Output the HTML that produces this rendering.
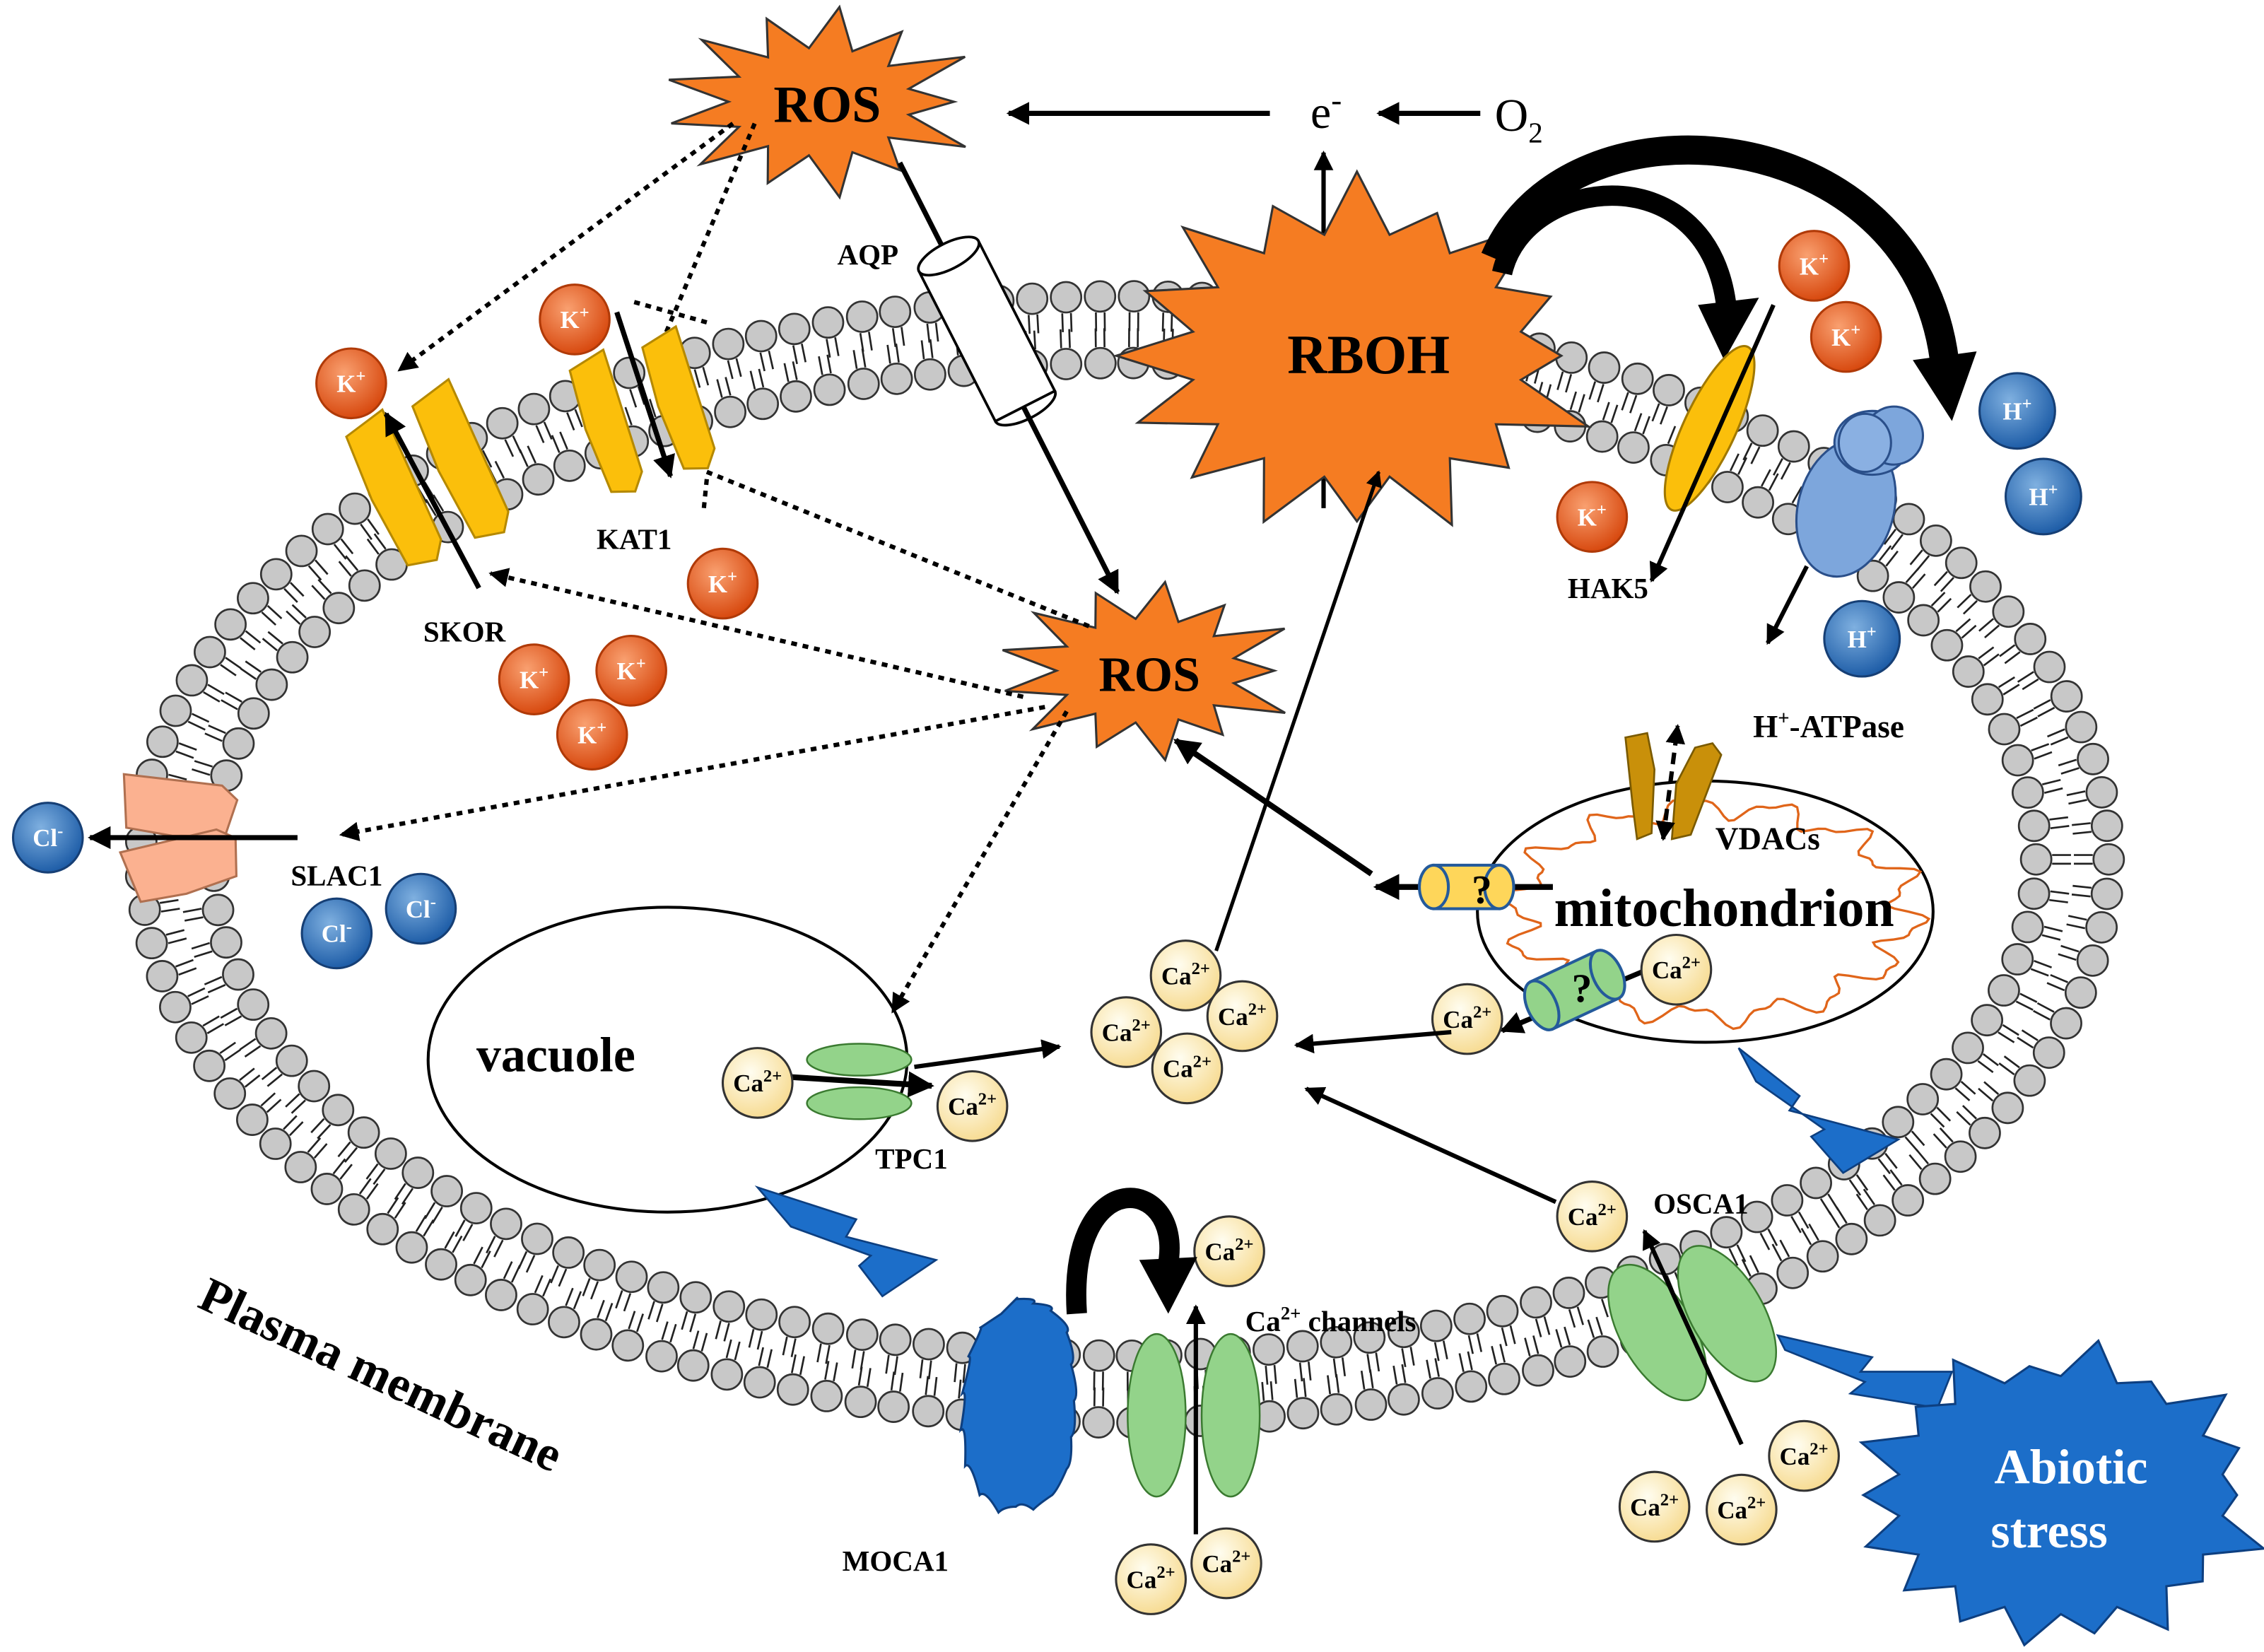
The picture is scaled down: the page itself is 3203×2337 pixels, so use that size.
<!DOCTYPE html>
<html><head><meta charset="utf-8"><style>
html,body{margin:0;padding:0;background:#fff}
svg{display:block}
text{font-family:"Liberation Serif",serif;font-weight:bold}
</style></head><body>
<svg id="s" width="3203" height="2337" viewBox="0 0 1560 1138" xmlns="http://www.w3.org/2000/svg">
<defs>
<marker id="ah" viewBox="0 0 10 10" refX="9" refY="5" markerWidth="4.5" markerHeight="4.5" orient="auto-start-reverse"><path d="M0,0 L10,5 L0,10 z" fill="#000"/></marker>
<radialGradient id="gk" cx="40%" cy="35%" r="65%"><stop offset="0" stop-color="#f9a070"/><stop offset="1" stop-color="#d84a10"/></radialGradient>
<radialGradient id="gh" cx="40%" cy="35%" r="65%"><stop offset="0" stop-color="#7fb0e0"/><stop offset="1" stop-color="#1f5ea8"/></radialGradient>
<radialGradient id="gc" cx="40%" cy="35%" r="65%"><stop offset="0" stop-color="#fffdf0"/><stop offset="1" stop-color="#f7dc94"/></radialGradient>
</defs>
<g id="mem"></g>
<g id="top"></g>
</svg>
<script>
var NS="http://www.w3.org/2000/svg";
function el(tag,attrs,parent,txt){var e=document.createElementNS(NS,tag);for(var k in attrs)e.setAttribute(k,attrs[k]);if(txt!==undefined)e.textContent=txt;(parent||document.getElementById('top')).appendChild(e);return e;}
function ts(t,s,dy,size){var a=document.createElementNS(NS,'tspan');a.textContent=s;if(dy)a.setAttribute('dy',dy);if(size)a.setAttribute('font-size',size);t.appendChild(a);return a;}
var mem=document.getElementById('mem');
var cx=775,cy=592;
function ring(rx,ry,dir){
  var N=4000,pts=[],L=0,prev=null;
  for(var i=0;i<=N;i++){var t=i/N*2*Math.PI;var p=[cx+rx*Math.cos(t),cy+ry*Math.sin(t)];if(prev)L+=Math.hypot(p[0]-prev[0],p[1]-prev[1]);pts.push([p,L,t]);prev=p;}
  var n=Math.round(L/23.5),step=L/n,j=0;
  for(var k=0;k<n;k++){var target=k*step;while(pts[j][1]<target)j++;var p=pts[j][0],t=pts[j][2];
    var nx=Math.cos(t)/rx,ny=Math.sin(t)/ry,nl=Math.hypot(nx,ny);nx/=nl;ny/=nl;
    var a=p[0]-dir*nx*11,b=p[1]-dir*ny*11;
    el('line',{x1:a-ny*3,y1:b+nx*3,x2:a-ny*3-dir*nx*13,y2:b+nx*3-dir*ny*13,stroke:'#222','stroke-width':1.3},mem);
    el('line',{x1:a+ny*3,y1:b-nx*3,x2:a+ny*3-dir*nx*13,y2:b-nx*3-dir*ny*13,stroke:'#222','stroke-width':1.3},mem);
    el('circle',{cx:p[0],cy:p[1],r:10.5,fill:'#c8c8c8',stroke:'#333','stroke-width':1.3},mem);
  }
}
ring(678,388,1);ring(628,342,-1);

function star(x,y,rx,ry,n,inner,fill,stroke,rot){var s='';for(var i=0;i<2*n;i++){var a=(rot||0)+i*Math.PI/n;var f=i%2?inner:1;var jit=i%2?1:(0.88+0.2*Math.abs(Math.sin(i*2.3)));s+=(x+rx*f*jit*Math.cos(a))+','+(y+ry*f*jit*Math.sin(a))+' ';}
 return el('polygon',{points:s,fill:fill,stroke:stroke||'#333','stroke-width':1.5});}
function arrow(x1,y1,x2,y2,w,dash){return el('line',{x1:x1,y1:y1,x2:x2,y2:y2,stroke:'#000','stroke-width':w||3,'stroke-dasharray':dash||'none','marker-end':'url(#ah)'});}
function txt(x,y,s,size,fill,anchor){return el('text',{x:x,y:y,'font-size':size,fill:fill||'#000','text-anchor':anchor||'middle'},null,s);}
function ion(x,y,kind,r){r=r||24;var g={K:'url(#gk)',H:'url(#gh)',C:'url(#gc)',L:'url(#gh)'}[kind];
 el('circle',{cx:x,cy:y,r:r,fill:g,stroke:kind=='C'?'#333':(kind=='K'?'#b03a08':'#163f75'),'stroke-width':1.5});
 var t=el('text',{x:x,y:y+6,'font-size':17,'text-anchor':'middle',fill:kind=='C'?'#000':'#fff'});
 ts(t,{K:'K',H:'H',C:'Ca',L:'Cl'}[kind]);ts(t,{K:'+',H:'+',C:'2+',L:'-'}[kind],'-7','12');}

el('ellipse',{cx:460,cy:730,rx:165,ry:105,fill:'#fff',stroke:'#000','stroke-width':2});
txt(383,738,'vacuole',34);
el('ellipse',{cx:1175,cy:628,rx:157,ry:90,fill:'#fff',stroke:'#000','stroke-width':2});
(function(){var s='';for(var i=0;i<=200;i++){var t=i/200*2*Math.PI;var r=1+0.09*Math.sin(t*14)+0.04*Math.sin(t*31);s+=(i?'L':'M')+(1180+135*r*Math.cos(t))+','+(628+72*r*Math.sin(t));}
 el('path',{d:s,fill:'none',stroke:'#e0651a','stroke-width':1.6});})();
txt(1188,638,'mitochondrion',37);

arrow(875,78,695,78,3.5);
(function(){var t=el('text',{x:903,y:88,'font-size':32,style:'font-weight:normal'});ts(t,'e');ts(t,'-','-12','22');})();
arrow(1020,78,950,78,3.5);
(function(){var t=el('text',{x:1030,y:90,'font-size':32,style:'font-weight:normal'});ts(t,'O');ts(t,'2','8','20');})();
arrow(912,350,912,105,3);

star(565,70,105,62,13,0.6,'#f57c22');
txt(570,84,'ROS',36);
star(935,245,160,118,16,0.72,'#f57c22');
txt(943,257,'RBOH',38);

el('line',{x1:505,y1:85,x2:275,y2:255,stroke:'#000','stroke-width':3,'stroke-dasharray':'4,4','marker-end':'url(#ah)'});
el('line',{x1:520,y1:85,x2:450,y2:250,stroke:'#000','stroke-width':3,'stroke-dasharray':'4,4'});
el('line',{x1:437,y1:208,x2:487,y2:222,stroke:'#000','stroke-width':3,'stroke-dasharray':'4,4'});
el('line',{x1:487,y1:330,x2:485,y2:350,stroke:'#000','stroke-width':3,'stroke-dasharray':'4,4'});
el('line',{x1:620,y1:112,x2:770,y2:408,stroke:'#000','stroke-width':3.5,'marker-end':'url(#ah)'});
(function(){var g=el('g',{transform:'translate(680,228) rotate(-27)'});
 el('rect',{x:-23,y:-58,width:46,height:116,fill:'#fff',stroke:'#000','stroke-width':1.8},g);
 el('ellipse',{cx:0,cy:-58,rx:23,ry:9,fill:'#fff',stroke:'#000','stroke-width':1.8},g);
 el('path',{d:'M-23,58 A23,9 0 0 0 23,58',fill:'none',stroke:'#000','stroke-width':1.8},g);})();
txt(598,182,'AQP',20);

star(790,462,100,58,13,0.62,'#f57c22');
txt(792,476,'ROS',34);
el('line',{x1:487,y1:325,x2:752,y2:432,stroke:'#000','stroke-width':3,'stroke-dasharray':'4,4'});
el('line',{x1:705,y1:480,x2:338,y2:395,stroke:'#000','stroke-width':3,'stroke-dasharray':'4,4','marker-end':'url(#ah)'});
el('line',{x1:720,y1:487,x2:235,y2:575,stroke:'#000','stroke-width':3,'stroke-dasharray':'4,4','marker-end':'url(#ah)'});
el('line',{x1:735,y1:490,x2:615,y2:697,stroke:'#000','stroke-width':3,'stroke-dasharray':'4,4','marker-end':'url(#ah)'});
arrow(945,602,810,510,4);

function chan(x,y,rot,fill,stroke,w,h){var g=el('g',{transform:'translate('+x+','+y+') rotate('+rot+')'});
 el('path',{d:'M'+(-w/2)+','+(-h/2+8)+' L'+(w/2-4)+','+(-h/2)+' L'+(w/2)+','+(h/2-12)+' L'+(w/2-8)+','+(h/2)+' L'+(-w/2+6)+','+(h/2-4)+' L'+(-w/2)+','+0+' z',fill:fill,stroke:stroke,'stroke-width':1.5},g);return g;}
chan(272,338,-22,'#fbbf0b','#b58900',34,110);
chan(318,318,-22,'#fbbf0b','#b58900',34,112);
arrow(330,405,266,285,3.5);
txt(320,442,'SKOR',20);
chan(418,292,-15,'#fbbf0b','#b58900',30,100);
chan(468,276,-15,'#fbbf0b','#b58900',30,100);
arrow(425,215,462,328,3.5);
txt(437,378,'KAT1',20);
ion(242,264,'K');ion(396,220,'K');ion(498,402,'K');ion(368,468,'K');ion(435,462,'K');ion(408,506,'K');

chan(122,556,-80,'#fbb190','#b07050',40,80);
chan(125,596,-100,'#fbb190','#b07050',40,80);
arrow(205,577,62,577,3.5);
txt(232,610,'SLAC1',20);
ion(33,577,'L');ion(232,643,'L');ion(290,626,'L');

el('path',{d:'M1035,188 C1050,120 1180,105 1190,215',fill:'none',stroke:'#000','stroke-width':14});
el('polygon',{points:'1170,210 1212,205 1188,248',fill:'#000'});
el('path',{d:'M1030,178 C1080,60 1320,80 1340,250',fill:'none',stroke:'#000','stroke-width':20});
el('polygon',{points:'1318,248 1362,242 1345,290',fill:'#000'});
el('ellipse',{cx:1178,cy:295,rx:18,ry:62,transform:'rotate(25 1178 295)',fill:'#fbbf0b',stroke:'#a07800','stroke-width':1.5});
arrow(1222,210,1138,400,3);
ion(1250,183,'K');ion(1272,232,'K');ion(1097,356,'K');
txt(1108,412,'HAK5',20);
el('ellipse',{cx:1272,cy:350,rx:33,ry:48,transform:'rotate(15 1272 350)',fill:'#7da6dc',stroke:'#2a4f8a','stroke-width':1.5});
el('ellipse',{cx:1290,cy:305,rx:26,ry:22,fill:'#7da6dc',stroke:'#2a4f8a','stroke-width':1.5});
el('ellipse',{cx:1305,cy:300,rx:20,ry:20,fill:'#7da6dc',stroke:'#2a4f8a','stroke-width':1.5});
el('ellipse',{cx:1285,cy:305,rx:18,ry:20,fill:'#8ab0e2',stroke:'#2a4f8a','stroke-width':1.5});
arrow(1245,390,1218,443,3);
ion(1390,283,'H',26);ion(1408,342,'H',26);ion(1283,440,'H',26);
(function(){var t=el('text',{x:1260,y:508,'font-size':22,'text-anchor':'middle'});ts(t,'H');ts(t,'+','-9','14');ts(t,'-ATPase','9');})();

el('path',{d:'M1120,508 L1135,505 L1140,530 L1138,574 L1128,578 L1125,555 z',fill:'#c9900a',stroke:'#7a5a00','stroke-width':1.3});
el('path',{d:'M1168,515 L1180,512 L1186,520 L1165,575 L1152,578 L1155,540 z',fill:'#c9900a',stroke:'#7a5a00','stroke-width':1.3});
el('line',{x1:1146,y1:578,x2:1156,y2:500,stroke:'#000','stroke-width':3,'stroke-dasharray':'8,5','marker-end':'url(#ah)','marker-start':'url(#ah)'});
txt(1218,585,'VDACs',22);
arrow(1070,611,948,611,4);
(function(){var g=el('g',{});
 el('rect',{x:988,y:596,width:45,height:30,fill:'#fed65a',stroke:'#245a9b','stroke-width':2},g);
 el('ellipse',{cx:1033,cy:611,rx:10,ry:15,fill:'#fed65a',stroke:'#245a9b','stroke-width':2},g);
 el('ellipse',{cx:988,cy:611,rx:10,ry:15,fill:'#fed65a',stroke:'#245a9b','stroke-width':2},g);})();
txt(1021,622,'?',28);
arrow(1135,668,1035,710,3.5);
(function(){var g=el('g',{transform:'translate(1085,682) rotate(-25)'});
 el('rect',{x:-25,y:-18,width:50,height:36,fill:'#93d38a',stroke:'#245a9b','stroke-width':2},g);
 el('ellipse',{cx:25,cy:0,rx:10,ry:18,fill:'#93d38a',stroke:'#245a9b','stroke-width':2},g);
 el('ellipse',{cx:-25,cy:0,rx:10,ry:18,fill:'#93d38a',stroke:'#245a9b','stroke-width':2},g);})();
txt(1090,690,'?',28);
ion(1155,668,'C');ion(1011,702,'C');

arrow(838,655,950,325,2.5);
ion(817,672,'C');ion(856,700,'C');ion(776,711,'C');ion(818,736,'C');
arrow(1000,711,893,720,3);
el('ellipse',{cx:592,cy:730,rx:36,ry:11,fill:'#93d38a',stroke:'#3a7a30','stroke-width':1.2});
el('ellipse',{cx:592,cy:760,rx:36,ry:11,fill:'#93d38a',stroke:'#3a7a30','stroke-width':1.2});
arrow(545,742,642,748,4);
arrow(630,735,730,721,3);
ion(522,746,'C');ion(670,762,'C');
txt(628,805,'TPC1',20);
arrow(1072,828,900,750,3);
ion(1097,838,'C');
txt(1172,836,'OSCA1',20);
el('ellipse',{cx:1142,cy:918,rx:25,ry:52,transform:'rotate(-30 1142 918)',fill:'#93d38a',stroke:'#3a7a30','stroke-width':1.2});
el('ellipse',{cx:1190,cy:905,rx:25,ry:52,transform:'rotate(-30 1190 905)',fill:'#93d38a',stroke:'#3a7a30','stroke-width':1.2});
arrow(1200,995,1133,848,3);
ion(1243,1003,'C');ion(1140,1038,'C');ion(1200,1040,'C');
el('ellipse',{cx:797,cy:975,rx:20,ry:56,fill:'#93d38a',stroke:'#3a7a30','stroke-width':1.2});
el('ellipse',{cx:848,cy:975,rx:20,ry:56,fill:'#93d38a',stroke:'#3a7a30','stroke-width':1.2});
arrow(824,1057,824,900,3);
(function(){var t=el('text',{x:858,y:917,'font-size':20,'text-anchor':'start'});ts(t,'Ca');ts(t,'2+','-8','13');ts(t,' channels','8');})();
ion(847,862,'C');ion(793,1088,'C');ion(845,1077,'C');
(function(){var s='M690,905 ';var pts=[[700,895],[712,898],[724,903],[735,918],[738,940],[740,965],[738,990],[735,1012],[725,1030],[712,1040],[700,1038],[688,1042],[675,1030],[665,1010],[662,985],[663,960],[667,935],[675,915]];
 pts.forEach(function(p){s+='Q'+(p[0]+4)+','+(p[1]-4)+' '+p[0]+','+p[1]+' ';});s+='z';
 el('path',{d:s,fill:'#1c6ec9',stroke:'#0d3f80','stroke-width':1.5});})();
txt(617,1082,'MOCA1',20);
el('path',{d:'M742,905 C735,800 815,810 805,870',fill:'none',stroke:'#000','stroke-width':14});
el('polygon',{points:'785,868 825,866 805,905',fill:'#000'});

function bolt(pts){el('polygon',{points:pts,fill:'#1c6ec9',stroke:'#0d3f80','stroke-width':1.3});}
bolt('522,818 590,840 583,852 645,868 608,893 592,872 600,865 545,845');
bolt('1198,722 1240,755 1233,765 1308,785 1270,808 1248,783 1257,778 1210,745');
bolt('1225,920 1290,935 1282,945 1345,945 1335,970 1275,960 1285,952 1230,930');
star(1420,1030,138,100,18,0.82,'#1c6ec9','#0d3f80');
el('text',{x:1427,y:1022,'font-size':34,fill:'#fff','text-anchor':'middle'},null,'Abiotic');
el('text',{x:1412,y:1066,'font-size':34,fill:'#fff','text-anchor':'middle'},null,'stress');

el('text',{x:135,y:900,'font-size':34,transform:'rotate(25 135 900)'},null,'Plasma membrane');
</script>
</body></html>
